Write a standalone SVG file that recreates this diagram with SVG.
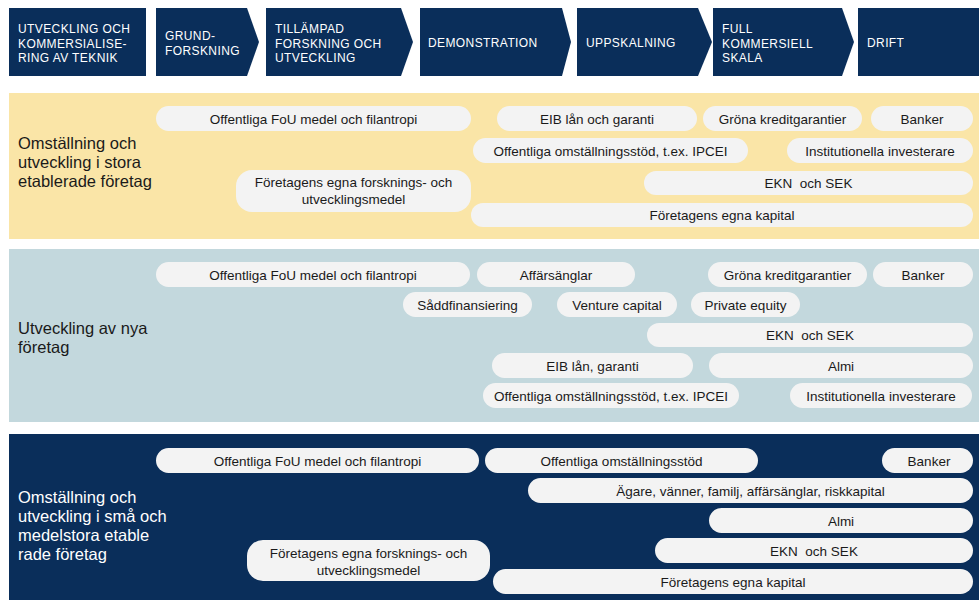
<svg xmlns="http://www.w3.org/2000/svg" width="979" height="600" viewBox="0 0 979 600">
<style>
.hd{fill:#0A2E5A}
.hdt{font-family:"Liberation Sans",Arial,sans-serif;font-size:12px;letter-spacing:0.4px;fill:#fff}
.lab{font-family:"Liberation Sans",Arial,sans-serif;font-size:16.5px;fill:#1a1a1a}
.labw{font-family:"Liberation Sans",Arial,sans-serif;font-size:16.5px;fill:#fff}
.pill{fill:#F3F3F3}
.pt{font-family:"Liberation Sans",Arial,sans-serif;font-size:13.5px;fill:#1a1a1a;text-anchor:middle;white-space:pre}
</style>
<rect width="979" height="600" fill="#fff"/>
<!-- header -->
<g id="h1"><rect class="hd" x="9" y="8" width="137" height="68"/>
<text class="hdt" x="18" y="33">UTVECKLING OCH</text><text class="hdt" x="18" y="47.5">KOMMERSIALISE-</text><text class="hdt" x="18" y="62">RING AV TEKNIK</text></g>
<g id="h2"><polygon class="hd" points="156,8 247,8 259,42 247,76 156,76"/>
<text class="hdt" x="165" y="40">GRUND-</text><text class="hdt" x="165" y="54.5">FORSKNING</text></g>
<g id="h3"><polygon class="hd" points="266,8 401,8 413,42 401,76 266,76"/>
<text class="hdt" x="275" y="33">TILLÄMPAD</text><text class="hdt" x="275" y="47.5">FORSKNING OCH</text><text class="hdt" x="275" y="62">UTVECKLING</text></g>
<g id="h4"><polygon class="hd" points="420,8 562,8 571,42 562,76 420,76"/>
<text class="hdt" x="428" y="47">DEMONSTRATION</text></g>
<g id="h5"><polygon class="hd" points="577,8 698,8 712,42 698,76 577,76"/>
<text class="hdt" x="586" y="47">UPPSKALNING</text></g>
<g id="h6"><polygon class="hd" points="713,8 842,8 854,42 842,76 713,76"/>
<text class="hdt" x="722" y="33">FULL</text><text class="hdt" x="722" y="47.5">KOMMERSIELL</text><text class="hdt" x="722" y="62">SKALA</text></g>
<g id="h7"><rect class="hd" x="858" y="8" width="121" height="68"/>
<text class="hdt" x="867" y="47">DRIFT</text></g>

<!-- section 1 -->
<g id="s1"><rect x="9" y="93" width="970" height="146" fill="#FAE5A7"/>
<text class="lab" x="18" y="149">Omställning och</text><text class="lab" x="18" y="168">utveckling i stora</text><text class="lab" x="18" y="187">etablerade företag</text></g>
<g id="s1p1"><rect class="pill" x="156" y="106" width="315" height="25" rx="12.5"/><text class="pt" x="313.5" y="123.5">Offentliga FoU medel och filantropi</text></g>
<g id="s1p2"><rect class="pill" x="497" y="106" width="200" height="25" rx="12.5"/><text class="pt" x="597" y="123.5">EIB lån och garanti</text></g>
<g id="s1p3"><rect class="pill" x="703" y="106" width="159" height="25" rx="12.5"/><text class="pt" x="782.5" y="123.5">Gröna kreditgarantier</text></g>
<g id="s1p4"><rect class="pill" x="871" y="106" width="102" height="25" rx="12.5"/><text class="pt" x="922" y="123.5">Banker</text></g>
<g id="s1p5"><rect class="pill" x="473" y="138" width="275" height="25" rx="12.5"/><text class="pt" x="610.5" y="155.5">Offentliga omställningsstöd, t.ex. IPCEI</text></g>
<g id="s1p6"><rect class="pill" x="787" y="138" width="186" height="25" rx="12.5"/><text class="pt" x="880" y="155.5">Institutionella investerare</text></g>
<g id="s1p7"><rect class="pill" x="644" y="171" width="329" height="24" rx="12"/><text class="pt" x="808.5" y="188">EKN  och SEK</text></g>
<g id="s1p8"><rect class="pill" x="236" y="170" width="235" height="42" rx="16"/><text class="pt" x="353.5" y="187">Företagens egna forsknings- och</text><text class="pt" x="353.5" y="203.5">utvecklingsmedel</text></g>
<g id="s1p9"><rect class="pill" x="471" y="203" width="502" height="24" rx="12"/><text class="pt" x="722" y="220">Företagens egna kapital</text></g>

<!-- section 2 -->
<g id="s2"><rect x="9" y="249" width="970" height="173" fill="#C3D8DD"/>
<text class="lab" x="18" y="334">Utveckling av nya</text><text class="lab" x="18" y="353">företag</text></g>
<g id="s2p1"><rect class="pill" x="156" y="262" width="314" height="25" rx="12.5"/><text class="pt" x="313" y="279.5">Offentliga FoU medel och filantropi</text></g>
<g id="s2p2"><rect class="pill" x="477" y="262" width="158" height="25" rx="12.5"/><text class="pt" x="556" y="279.5">Affärsänglar</text></g>
<g id="s2p3"><rect class="pill" x="708" y="262" width="159" height="25" rx="12.5"/><text class="pt" x="787.5" y="279.5">Gröna kreditgarantier</text></g>
<g id="s2p4"><rect class="pill" x="873" y="262" width="100" height="25" rx="12.5"/><text class="pt" x="923" y="279.5">Banker</text></g>
<g id="s2p5"><rect class="pill" x="403" y="292" width="129" height="25" rx="12.5"/><text class="pt" x="467.5" y="309.5">Såddfinansiering</text></g>
<g id="s2p6"><rect class="pill" x="557" y="292" width="120" height="25" rx="12.5"/><text class="pt" x="617" y="309.5">Venture capital</text></g>
<g id="s2p7"><rect class="pill" x="691" y="292" width="109" height="25" rx="12.5"/><text class="pt" x="745.5" y="309.5">Private equity</text></g>
<g id="s2p8"><rect class="pill" x="647" y="323" width="326" height="24" rx="12"/><text class="pt" x="810" y="340">EKN  och SEK</text></g>
<g id="s2p9"><rect class="pill" x="492" y="353" width="201" height="25" rx="12.5"/><text class="pt" x="592.5" y="370.5">EIB lån, garanti</text></g>
<g id="s2p10"><rect class="pill" x="709" y="353" width="264" height="25" rx="12.5"/><text class="pt" x="841" y="370.5">Almi</text></g>
<g id="s2p11"><rect class="pill" x="483" y="383" width="256" height="25" rx="12.5"/><text class="pt" x="611" y="400.5">Offentliga omställningsstöd, t.ex. IPCEI</text></g>
<g id="s2p12"><rect class="pill" x="790" y="383" width="182" height="25" rx="12.5"/><text class="pt" x="881" y="400.5">Institutionella investerare</text></g>

<!-- section 3 -->
<g id="s3"><rect x="9" y="434" width="970" height="166" fill="#0A2E5A"/>
<text class="labw" x="18" y="503">Omställning och</text><text class="labw" x="18" y="522">utveckling i små och</text><text class="labw" x="18" y="541">medelstora etable</text><text class="labw" x="18" y="560">rade företag</text></g>
<g id="s3p1"><rect class="pill" x="156" y="448" width="323" height="25" rx="12.5"/><text class="pt" x="317.5" y="465.5">Offentliga FoU medel och filantropi</text></g>
<g id="s3p2"><rect class="pill" x="485" y="448" width="273" height="25" rx="12.5"/><text class="pt" x="621.5" y="465.5">Offentliga omställningsstöd</text></g>
<g id="s3p3"><rect class="pill" x="882" y="448" width="91" height="25" rx="12.5"/><text class="pt" x="929" y="465.5">Banker</text></g>
<g id="s3p4"><rect class="pill" x="528" y="478" width="445" height="25" rx="12.5"/><text class="pt" x="750.5" y="495.5">Ägare, vänner, familj, affärsänglar, riskkapital</text></g>
<g id="s3p5"><rect class="pill" x="709" y="508" width="264" height="25" rx="12.5"/><text class="pt" x="841" y="525.5">Almi</text></g>
<g id="s3p6"><rect class="pill" x="655" y="538" width="318" height="25" rx="12.5"/><text class="pt" x="814" y="555.5">EKN  och SEK</text></g>
<g id="s3p7"><rect class="pill" x="247" y="540" width="243" height="41" rx="16"/><text class="pt" x="368.5" y="558">Företagens egna forsknings- och</text><text class="pt" x="368.5" y="574.5">utvecklingsmedel</text></g>
<g id="s3p8"><rect class="pill" x="493" y="569" width="480" height="25" rx="12.5"/><text class="pt" x="733" y="586.5">Företagens egna kapital</text></g>
</svg>
